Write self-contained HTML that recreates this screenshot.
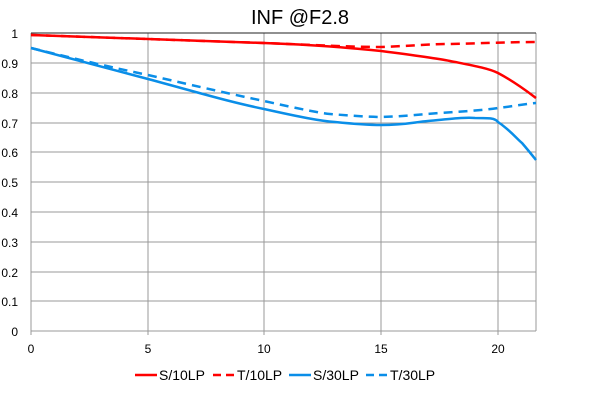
<!DOCTYPE html><html><head><style>body{margin:0;background:#fff}</style></head><body>
<svg width="600" height="400" xmlns="http://www.w3.org/2000/svg" font-family="Liberation Sans, sans-serif">
<rect width="600" height="400" fill="#fff"/>
<text x="300" y="24" font-size="20" text-anchor="middle" fill="#000">INF @F2.8</text>
<g stroke="#999" stroke-width="1">
<line x1="31" y1="63" x2="536" y2="63"/><line x1="31" y1="93" x2="536" y2="93"/><line x1="31" y1="123" x2="536" y2="123"/><line x1="31" y1="152" x2="536" y2="152"/><line x1="31" y1="182" x2="536" y2="182"/><line x1="31" y1="212" x2="536" y2="212"/><line x1="31" y1="242" x2="536" y2="242"/><line x1="31" y1="272" x2="536" y2="272"/><line x1="31" y1="301" x2="536" y2="301"/>
<line x1="148" y1="33" x2="148" y2="335"/><line x1="264" y1="33" x2="264" y2="335"/><line x1="381" y1="33" x2="381" y2="335"/><line x1="498" y1="33" x2="498" y2="335"/>
<line x1="31" y1="33" x2="31" y2="335"/><line x1="536" y1="33" x2="536" y2="331"/><line x1="31" y1="331" x2="536" y2="331"/>
</g>
<line x1="31" y1="33" x2="536" y2="33" stroke="#222"/>
<g font-size="12" fill="#000" text-anchor="end">
<text x="18" y="38">1</text><text x="18" y="68">0.9</text><text x="18" y="98">0.8</text><text x="18" y="128">0.7</text><text x="18" y="157">0.6</text><text x="18" y="187">0.5</text><text x="18" y="217">0.4</text><text x="18" y="247">0.3</text><text x="18" y="277">0.2</text><text x="18" y="306">0.1</text><text x="18" y="336">0</text>
</g>
<g font-size="12" fill="#000" text-anchor="middle">
<text x="31" y="353">0</text><text x="148" y="353">5</text><text x="264" y="353">10</text><text x="381" y="353">15</text><text x="498" y="353">20</text>
</g>
<g fill="none" stroke-width="2.5">
<path d="M31,35 C150,39 230,42 264,43 C320,45 350,48 381,51 C420,56 440,59 450,61 C470,65 488,68 498,73 C515,82 528,92 536,98" stroke="#f00"/>
<path d="M31,35 C150,39 230,42 264,43 C320,45 350,47 381,47 C410,46 430,44 450,44 C490,43 515,42 536,42" stroke="#f00" stroke-dasharray="9,6"/>
<path d="M31,48 C80,61 110,69 148,79 C200,93 230,102 264,109 C300,117 320,121 335,122 C355,124 370,125 381,125 C405,125 415,122 428,121 C450,119 465,117 475,118 C490,118 495,118 498,122 C510,130 518,140 522,143 C528,150 532,155 536,160" stroke="#0a8ee8"/>
<path d="M31,48 C80,60 110,67 148,75 C200,87 235,95 264,101 C300,109 320,113 330,114 C355,116 370,117 381,117 C410,116 425,114 440,113 C470,111 485,110 498,108 C515,106 525,104 536,103" stroke="#0a8ee8" stroke-dasharray="9,6"/>
</g>
<g font-size="14" fill="#000">
<line x1="135" y1="375" x2="157" y2="375" stroke="#f00" stroke-width="2.5"/><text x="159" y="380">S/10LP</text>
<line x1="213" y1="375" x2="235" y2="375" stroke="#f00" stroke-width="2.5" stroke-dasharray="8,5"/><text x="237" y="380">T/10LP</text>
<line x1="289" y1="375" x2="311" y2="375" stroke="#0a8ee8" stroke-width="2.5"/><text x="313" y="380">S/30LP</text>
<line x1="366" y1="375" x2="388" y2="375" stroke="#0a8ee8" stroke-width="2.5" stroke-dasharray="8,5"/><text x="390" y="380">T/30LP</text>
</g>
</svg>
</body></html>
